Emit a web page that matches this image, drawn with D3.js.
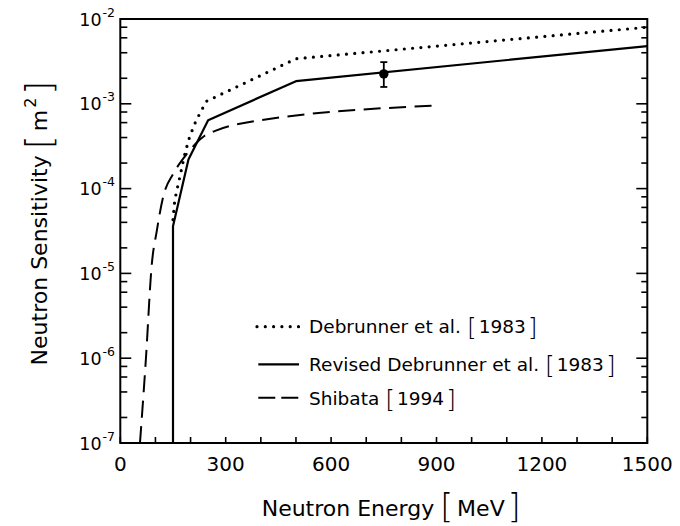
<!DOCTYPE html>
<html>
<head>
<meta charset="utf-8">
<script src="https://cdn.jsdelivr.net/npm/d3@7"></script>
<style>
  html, body { margin: 0; padding: 0; background: #fff; }
  svg { display: block; font-family: "DejaVu Sans", sans-serif; }
  .brk { font-weight: 200; }
</style>
</head>
<body>
<svg id="chart" width="680" height="526"></svg>
<script>
// Neutron sensitivity curves (energy in MeV, sensitivity in m^2)
const debrunnerE = [150, 155, 162, 170, 182, 195, 210, 225, 245, 500, 1500];
const debrunnerV = [4.3e-5, 7.3e-5, 1.0e-4, 1.4e-4, 2.4e-4, 3.8e-4, 5.6e-4, 7.5e-4, 1.07e-3, 3.4e-3, 8.0e-3];

const revisedE = [150, 150, 194, 250, 500, 1500];
const revisedV = [1e-7, 3.6e-5, 2.2e-4, 6.4e-4, 1.85e-3, 4.8e-3];

const shibataE = [56, 73, 89, 104, 122, 151, 184, 215, 240, 270, 330, 890];
const shibataV = [1e-7, 1e-6, 1.2e-5, 3.2e-5, 8e-5, 1.5e-4, 2.4e-4, 3.4e-4, 4.2e-4, 4.8e-4, 5.7e-4, 9.5e-4];

// Measured point with error bar
const measuredE = [750];
const measuredV = [2.25e-3];
const measuredLo = [1.58e-3];
const measuredHi = [3.1e-3];

// Axis ticks
const xMinorTicks = [0, 100, 200, 300, 400, 500, 600, 700, 800, 900, 1000, 1100, 1200, 1300, 1400, 1500];
const xLabelTicks = [0, 300, 600, 900, 1200, 1500];
const yDecadeExps = [-7, -6, -5, -4, -3, -2];
const yMinorMantissas = [2, 4, 6, 8];

const legendLabels = [
  { name: "Debrunner et al.", year: "1983", style: "dot" },
  { name: "Revised Debrunner et al.", year: "1983", style: "solid" },
  { name: "Shibata", year: "1994", style: "dash" }
];

const plotL = 120.3, plotR = 647.3, plotT = 19, plotB = 443;
const svg = d3.select("#chart");

const x = d3.scaleLinear().domain([0, 1500]).range([plotL, plotR]);
const y = d3.scaleLog().domain([1e-7, 1e-2]).range([plotB, plotT]);

svg.append("defs").append("clipPath").attr("id", "plotClip")
  .append("rect").attr("x", plotL).attr("y", plotT)
  .attr("width", plotR - plotL).attr("height", plotB - plotT);

const styles = {
  dot:   { width: 3.2, dash: "0 8.3", cap: "round" },
  solid: { width: 2.2, dash: null, cap: "butt" },
  dash:  { width: 2.0, dash: "17 8.5", cap: "butt" }
};

function series(E, V, style, curve) {
  const data = E.map((e, i) => [e, V[i]]);
  const line = d3.line().x(d => x(d[0])).y(d => y(d[1])).curve(curve || d3.curveLinear);
  const s = styles[style];
  svg.append("path")
    .attr("clip-path", "url(#plotClip)")
    .attr("d", line(data))
    .attr("fill", "none")
    .attr("stroke", "#000")
    .attr("stroke-width", s.width)
    .attr("stroke-linecap", s.cap)
    .attr("stroke-linejoin", "round")
    .attr("stroke-dasharray", s.dash);
}

series(shibataE, shibataV, "dash", d3.curveMonotoneX);
series(revisedE, revisedV, "solid");
series(debrunnerE, debrunnerV, "dot");

// Measured point
const meas = svg.append("g");
measuredE.forEach((e, i) => {
  const cx = x(e);
  meas.append("line").attr("x1", cx).attr("x2", cx)
    .attr("y1", y(measuredLo[i])).attr("y2", y(measuredHi[i]))
    .attr("stroke", "#000").attr("stroke-width", 1.8);
  [measuredLo[i], measuredHi[i]].forEach(v => {
    meas.append("line").attr("x1", cx - 3.5).attr("x2", cx + 3.5)
      .attr("y1", y(v)).attr("y2", y(v))
      .attr("stroke", "#000").attr("stroke-width", 1.8);
  });
  meas.append("circle").attr("cx", cx).attr("cy", y(measuredV[i])).attr("r", 4.7).attr("fill", "#000");
});

// Frame
svg.append("rect").attr("x", plotL).attr("y", plotT)
  .attr("width", plotR - plotL).attr("height", plotB - plotT)
  .attr("fill", "none").attr("stroke", "#000").attr("stroke-width", 2);

// X ticks (inward) and labels
const xAxis = svg.append("g");
xAxis.selectAll("line").data(xMinorTicks).join("line")
  .attr("x1", d => x(d)).attr("x2", d => x(d))
  .attr("y1", plotB).attr("y2", plotB - 6)
  .attr("stroke", "#000").attr("stroke-width", 1.6);
xAxis.selectAll("text").data(xLabelTicks).join("text")
  .attr("x", d => x(d)).attr("y", 471)
  .attr("text-anchor", "middle").attr("font-size", 20)
  .text(d => d);

// Y ticks on both sides (inward)
const yTicks = [];
yDecadeExps.forEach(p => {
  yTicks.push({ v: Math.pow(10, p), major: true });
  if (p < -2) yMinorMantissas.forEach(m => yTicks.push({ v: m * Math.pow(10, p), major: false }));
});
const yAxis = svg.append("g");
yAxis.selectAll("line.l").data(yTicks).join("line").attr("class", "l")
  .attr("x1", plotL).attr("x2", d => plotL + (d.major ? 11 : 7))
  .attr("y1", d => y(d.v)).attr("y2", d => y(d.v))
  .attr("stroke", "#000").attr("stroke-width", 1.6);
yAxis.selectAll("line.r").data(yTicks).join("line").attr("class", "r")
  .attr("x1", plotR).attr("x2", d => plotR - (d.major ? 11 : 6))
  .attr("y1", d => y(d.v)).attr("y2", d => y(d.v))
  .attr("stroke", "#000").attr("stroke-width", 1.6);

const yLab = yAxis.selectAll("text").data(yDecadeExps).join("text")
  .attr("x", 115).attr("y", d => y(Math.pow(10, d)) + 6.5)
  .attr("text-anchor", "end").attr("font-size", 17.5);
yLab.append("tspan").text("10");
yLab.append("tspan").attr("font-size", 12.5).attr("dy", -9).attr("dx", 1).text(d => "-" + (-d));

// Axis titles
const xt = svg.append("text").attr("x", 261.7).attr("y", 516).attr("font-size", 22);
xt.append("tspan").text("Neutron Energy");
xt.append("tspan").attr("class", "brk").attr("font-size", 33).attr("dx", 6).attr("dy", 2).text("[");
xt.append("tspan").attr("dx", 4).attr("dy", -2).text("MeV");
xt.append("tspan").attr("class", "brk").attr("font-size", 33).attr("dx", 3).attr("dy", 2).text("]");

const yt = svg.append("text")
  .attr("transform", "translate(46.5,223) rotate(-90)")
  .attr("text-anchor", "middle").attr("font-size", 22);
yt.append("tspan").text("Neutron Sensitivity");
yt.append("tspan").attr("class", "brk").attr("font-size", 36).attr("dx", 6).attr("dy", 4).text("[");
yt.append("tspan").attr("dx", 4).attr("dy", -4).text("m");
yt.append("tspan").attr("font-size", 16).attr("dx", 2).attr("dy", -11).text("2");
yt.append("tspan").attr("class", "brk").attr("font-size", 36).attr("dx", 3).attr("dy", 15).text("]");

// Legend
const legY = [326.7, 364.3, 397.7];
const legBase = [333.3, 370.7, 405];
const leg = svg.append("g");
legendLabels.forEach((d, i) => {
  const s = styles[d.style];
  leg.append("line")
    .attr("x1", d.style === "dot" ? 257 : 258.3).attr("x2", 299)
    .attr("y1", legY[i]).attr("y2", legY[i])
    .attr("stroke", "#000").attr("stroke-width", s.width)
    .attr("stroke-linecap", s.cap)
    .attr("stroke-dasharray", d.style === "dash" ? "17 6" : s.dash);
  const t = leg.append("text").attr("x", 309).attr("y", legBase[i]).attr("font-size", 18.5);
  t.append("tspan").text(d.name);
  t.append("tspan").attr("class", "brk").attr("font-size", 25).attr("dx", 6).attr("dy", 3).text("[");
  t.append("tspan").attr("dx", 2).attr("dy", -3).text(d.year);
  t.append("tspan").attr("class", "brk").attr("font-size", 25).attr("dx", 2).attr("dy", 3).text("]");
});
</script>
</body>
</html>
